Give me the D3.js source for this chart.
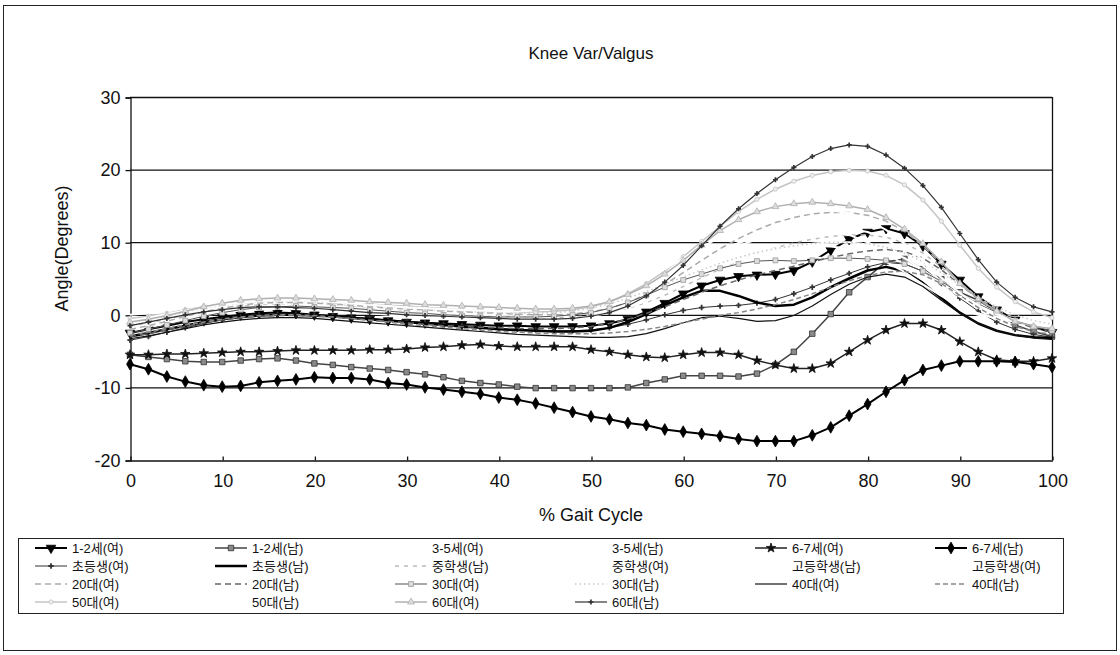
<!DOCTYPE html>
<html>
<head>
<meta charset="utf-8">
<script src="https://cdnjs.cloudflare.com/ajax/libs/d3/7.8.5/d3.min.js"></script>
<style>
  body { margin: 0; background: #fff; }
  svg { font-family: "Liberation Sans", Arial, "Noto Sans CJK KR", sans-serif; }
</style>
</head>
<body>
<svg id="chart" width="1120" height="655"></svg>
<script>
// % gait cycle, one sample every 2%
const gaitPct = [0,2,4,6,8,10,12,14,16,18,20,22,24,26,28,30,32,34,36,38,40,42,44,46,48,
  50,52,54,56,58,60,62,64,66,68,70,72,74,76,78,80,82,84,86,88,90,92,94,96,98,100];

const xTicks = [0,10,20,30,40,50,60,70,80,90,100];
const yTicks = [30,20,10,0,-10,-20];

const age12F = [-2.5,-2,-1.5,-1,-0.6,-0.3,0,0.2,0.3,0.2, 0,-0.2,-0.4,-0.6,-0.8,-1,-1.1,-1.2,-1.3,-1.4,
  -1.5,-1.5,-1.6,-1.6,-1.6,-1.5,-1.2,-0.6,0.4,1.6, 2.9,4,4.8,5.3,5.5,5.6,6.1,7.3,8.9,10.4,
  11.4,11.9,11.2,9.5,7,4.8,2.5,0.7,-0.7,-1.7, -2.4];
const age12M = [-5.5,-5.8,-6.1,-6.4,-6.5,-6.5,-6.3,-6.1,-6,-6.3, -6.7,-6.9,-7.2,-7.4,-7.6,-7.9,-8.2,-8.6,-9.1,-9.4,
  -9.6,-9.9,-10.1,-10.1,-10.1,-10.1,-10.1,-10,-9.4,-8.9, -8.4,-8.4,-8.4,-8.5,-8.1,-6.9,-5.1,-2.6,0.1,3.1,
  5.2,7.3,7.7,6.3,4.9,3.1,2,0.4,-1.4,-2.3, -3];
const age35F = [-1.5,-1.1,-0.7,-0.3,0.1,0.4,0.6,0.7,0.8,0.8, 0.7,0.6,0.5,0.4,0.3,0.2,0.1,0,-0.1,-0.2,
  -0.3,-0.3,-0.3,-0.2,0,0.4,1,1.9,3,4.3, 5.7,7.1,8.4,9.5,10.4,11.1,11.6,11.9,12,11.9,
  11.4,10.4,8.8,6.8,4.6,2.6,1,-0.2,-1,-1.5, -1.8];
const age35M = [-0.5,-0.3,0,0.3,0.5,0.7,0.8,0.9,0.9,0.8, 0.7,0.6,0.5,0.4,0.3,0.2,0.1,0,-0.1,-0.1,
  -0.2,-0.2,-0.1,0,0.2,0.5,1,1.6,2.4,3.3, 4.3,5.2,6,6.7,7.2,7.6,7.8,7.9,7.8,7.5,
  6.9,5.9,4.6,3.2,1.9,0.8,0,-0.5,-0.8,-1, -1.1];
const age67F = [-5.5,-5.5,-5.4,-5.4,-5.3,-5.2,-5.1,-5.1,-5,-4.9, -4.9,-4.9,-4.9,-4.8,-4.8,-4.7,-4.5,-4.4,-4.2,-4.1,
  -4.3,-4.4,-4.4,-4.4,-4.4,-4.8,-5.1,-5.5,-5.8,-5.9, -5.5,-5.2,-5.2,-5.5,-6.3,-6.9,-7.4,-7.4,-6.7,-5.1,
  -3.5,-2.1,-1.2,-1.2,-2.1,-3.7,-5.1,-6.2,-6.4,-6.4, -6];
const age67M = [-6.8,-7.5,-8.5,-9.2,-9.7,-9.9,-9.8,-9.3,-9.1,-8.9, -8.6,-8.7,-8.7,-8.9,-9.4,-9.6,-10,-10.3,-10.6,-10.9,
  -11.4,-11.7,-12.2,-12.8,-13.4,-14,-14.4,-14.9,-15.2,-15.8, -16.1,-16.4,-16.7,-17.1,-17.4,-17.4,-17.4,-16.6,-15.5,-13.9,
  -12.3,-10.6,-9,-7.6,-7,-6.4,-6.4,-6.4,-6.5,-6.8, -7.2];
const elemF = [-3.5,-3,-2.4,-1.8,-1.2,-0.7,-0.3,0,0.1,0.1, 0,-0.1,-0.3,-0.5,-0.7,-0.9,-1.1,-1.3,-1.5,-1.7,
  -1.9,-2,-2.1,-2.2,-2.2,-2.1,-1.8,-1.3,-0.7,0, 0.6,1,1.2,1.3,1.6,2.1,2.9,3.8,4.8,5.7,
  6.6,7.2,7,6,4.3,2.3,0.5,-1,-2,-2.7, -3.1];
const elemM = [-3,-2.5,-2,-1.5,-1,-0.6,-0.3,-0.1,0,0, -0.1,-0.2,-0.4,-0.6,-0.8,-1,-1.2,-1.4,-1.6,-1.8,
  -2,-2.1,-2.2,-2.3,-2.3,-2.2,-1.8,-1,0.1,1.3, 2.4,3.3,3.3,2.6,1.7,1.2,1.4,2.4,3.8,5,
  6.1,6.6,6,4.4,2.3,0.3,-1.2,-2.2,-2.8,-3.1, -3.2];
const middleM = [-1.5,-1.1,-0.6,0,0.5,0.9,1.2,1.4,1.5,1.5, 1.4,1.3,1.1,0.9,0.7,0.5,0.3,0.1,0,-0.1,
  -0.2,-0.3,-0.4,-0.4,-0.3,-0.1,0.3,0.9,1.7,2.7, 3.9,5.1,6.3,7.4,8.4,9.2,9.9,10.4,10.8,11,
  11,10.7,9.9,8.5,6.6,4.4,2.4,0.8,-0.5,-1.4, -1.9];
const middleF = [-2,-1.6,-1.1,-0.6,-0.1,0.3,0.6,0.8,0.9,0.9, 0.8,0.6,0.4,0.2,0,-0.2,-0.4,-0.5,-0.6,-0.7,
  -0.8,-0.8,-0.8,-0.7,-0.5,-0.2,0.3,1,1.9,3, 4.2,5.4,6.5,7.5,8.3,9,9.5,9.8,10,10,
  9.7,9,7.8,6.2,4.3,2.5,1,-0.1,-0.9,-1.4, -1.7];
const highM = [0,0.2,0.5,0.8,1.1,1.3,1.5,1.6,1.6,1.5, 1.4,1.2,1,0.8,0.6,0.4,0.3,0.2,0.1,0,
  0,0,0.1,0.3,0.6,1.1,1.8,2.7,3.8,5.1, 6.4,7.7,8.9,9.9,10.7,11.3,11.6,11.7,11.5,11,
  10,8.6,6.8,4.8,2.9,1.3,0.2,-0.5,-0.9,-1.1, -1.2];
const highF = [-1,-0.7,-0.3,0.1,0.5,0.8,1,1.1,1.1,1, 0.9,0.7,0.5,0.3,0.1,0,-0.2,-0.3,-0.4,-0.5,
  -0.5,-0.5,-0.4,-0.2,0.1,0.5,1.1,1.9,2.8,3.9, 5,6.1,7.1,7.9,8.6,9.1,9.4,9.5,9.4,9.1,
  8.4,7.3,5.9,4.2,2.6,1.2,0.2,-0.5,-0.9,-1.2, -1.3];
const age20F = [-2,-1.5,-0.9,-0.2,0.4,0.9,1.3,1.6,1.7,1.7, 1.6,1.5,1.3,1.1,1,0.8,0.7,0.5,0.4,0.3,
  0.2,0.1,0,0,0.1,0.4,0.9,1.7,2.8,4.2, 5.8,7.5,9.1,10.5,11.7,12.7,13.4,13.9,14.1,14.1,
  13.7,12.9,11.5,9.5,7,4.4,2.1,0.4,-0.8,-1.6, -2];
const age20M = [-3,-2.6,-2.1,-1.6,-1.1,-0.7,-0.4,-0.2,-0.1,-0.1, -0.2,-0.3,-0.5,-0.7,-0.9,-1.1,-1.3,-1.5,-1.6,-1.7,
  -1.8,-1.9,-1.9,-1.9,-1.8,-1.6,-1.2,-0.6,0.2,1.1, 2.1,3.1,4,4.8,5.5,6.1,6.7,7.3,7.9,8.4,
  8.8,9,8.7,7.8,6.2,4.2,2.2,0.5,-0.9,-1.8, -2.4];
const age30F = [-2.5,-2,-1.4,-0.8,-0.2,0.3,0.7,1,1.1,1.2, 1.1,1,0.9,0.7,0.5,0.3,0.2,0,-0.1,-0.2,
  -0.3,-0.3,-0.3,-0.2,0,0.3,0.9,1.7,2.7,3.8, 4.8,5.6,6.4,7,7.4,7.5,7.4,7.5,7.8,7.8,
  7.7,7.5,7,6,4.6,3,1.5,0.3,-0.8,-1.6, -2.2];
const age30M = [-1,-0.6,-0.1,0.4,0.9,1.3,1.6,1.8,1.9,1.9, 1.8,1.6,1.5,1.3,1.1,0.9,0.8,0.6,0.5,0.4,
  0.3,0.2,0.2,0.3,0.5,0.9,1.5,2.3,3.2,4.2, 5.2,6.2,7.1,7.9,8.6,9.1,9.5,9.8,10,10,
  9.8,9.3,8.5,7.3,5.8,4.1,2.5,1.1,0,-0.8, -1.3];
const age40F = [-3.3,-2.9,-2.4,-1.9,-1.4,-1,-0.7,-0.5,-0.4,-0.4, -0.5,-0.7,-0.9,-1.1,-1.3,-1.5,-1.7,-1.9,-2.1,-2.3,
  -2.5,-2.7,-2.8,-2.9,-3,-3.1,-3.1,-3,-2.6,-1.9, -1.1,-0.4,-0.2,-0.5,-0.9,-0.8,-0.1,1.2,2.8,4.2,
  5.2,5.6,5.2,3.9,2,0.2,-1.2,-2.2,-2.8,-3.2, -3.4];
const age40M = [-2.8,-2.4,-1.9,-1.4,-1,-0.6,-0.3,-0.1,0,0, -0.1,-0.3,-0.5,-0.8,-1,-1.3,-1.5,-1.7,-1.9,-2.1,
  -2.3,-2.4,-2.5,-2.6,-2.6,-2.6,-2.5,-2.3,-2,-1.6, -1.1,-0.6,-0.1,0.3,0.8,1.4,2.1,2.9,3.8,4.7,
  5.4,5.9,6,5.5,4.3,2.7,1,-0.5,-1.6,-2.3, -2.7];
const age50F = [-0.5,-0.2,0.2,0.7,1.1,1.5,1.8,1.9,2,2, 1.9,1.8,1.6,1.5,1.3,1.2,1,0.9,0.7,0.6,
  0.5,0.4,0.4,0.5,0.7,1.1,1.8,2.9,4.3,6, 8,10.1,12.2,14.2,15.9,17.3,18.4,19.2,19.7,19.9,
  19.8,19.2,17.9,15.8,12.9,9.6,6.4,3.8,1.8,0.4, -0.4];
const age50M = [-0.8,-0.4,0.1,0.6,1,1.4,1.7,1.9,2,2, 1.9,1.8,1.6,1.4,1.2,1,0.9,0.8,0.7,0.6,
  0.5,0.5,0.6,0.8,1.2,1.8,2.6,3.6,4.9,6.3, 7.8,9.3,10.7,12,13,13.8,14.3,14.5,14.4,14,
  13.1,11.7,9.8,7.5,5.1,3,1.3,0.1,-0.7,-1.2, -1.5];
const age60F = [-1,-0.6,-0.1,0.5,1.1,1.6,2,2.2,2.3,2.3, 2.2,2.1,2,1.8,1.7,1.6,1.4,1.3,1.2,1.1,
  1,0.9,0.8,0.8,0.9,1.2,1.8,2.8,4,5.6, 7.5,9.6,11.6,13.1,14.2,14.9,15.3,15.5,15.3,15,
  14.5,13.4,11.8,9.8,7.3,4.3,2.2,0.5,-0.9,-1.6, -1.9];
const age60M = [-1.5,-1,-0.5,0,0.4,0.7,1,1.1,1.1,1, 0.9,0.7,0.5,0.3,0.2,0,-0.1,-0.2,-0.3,-0.4,
  -0.5,-0.6,-0.6,-0.6,-0.5,-0.2,0.3,1.2,2.6,4.5, 6.8,9.5,12.2,14.6,16.7,18.6,20.3,21.8,22.9,23.4,
  23.2,22,20.2,17.8,14.8,11.2,7.6,4.5,2.4,1.1, 0.4];

const seriesNames = ['1-2세(여)','1-2세(남)','3-5세(여)','3-5세(남)','6-7세(여)','6-7세(남)',
  '초등생(여)','초등생(남)','중학생(남)','중학생(여)','고등학생(남)','고등학생(여)',
  '20대(여)','20대(남)','30대(여)','30대(남)','40대(여)','40대(남)',
  '50대(여)','50대(남)','60대(여)','60대(남)'];
const seriesValues = [age12F, age12M, age35F, age35M, age67F, age67M,
  elemF, elemM, middleM, middleF, highM, highF,
  age20F, age20M, age30F, age30M, age40F, age40M,
  age50F, age50M, age60F, age60M];

// line / marker look of each series, in legend order
const looks = [
  {stroke: '#000', w: 2,   mk: {type: d3.symbolTriangle, size: 40, rot: 180, fill: '#000', stroke: '#000'}},
  {stroke: '#444', w: 1.5, mk: {type: d3.symbolSquare, size: 30, fill: '#8a8a8a', stroke: '#333'}},
  {stroke: '#fff', w: 2},
  {stroke: '#fff', w: 2},
  {stroke: '#222', w: 1.5, mk: {type: d3.symbolStar, size: 28, fill: '#111', stroke: '#111'}},
  {stroke: '#000', w: 2,   mk: {type: d3.symbolDiamond, size: 40, fill: '#000', stroke: '#000'}},
  {stroke: '#333', w: 1,   mk: {type: d3.symbolCross, size: 16, fill: '#333', stroke: 'none'}},
  {stroke: '#000', w: 2.5},
  {stroke: '#bbb', w: 1.5, dash: '4,5'},
  {stroke: '#fff', w: 2},
  {stroke: '#fff', w: 2},
  {stroke: '#fff', w: 2},
  {stroke: '#aaa', w: 1.5, dash: '6,4'},
  {stroke: '#666', w: 1.5, dash: '6,4'},
  {stroke: '#555', w: 1,   mk: {type: d3.symbolSquare, size: 24, fill: '#ddd', stroke: '#999'}},
  {stroke: '#c8c8c8', w: 1.5, dash: '1.5,3'},
  {stroke: '#111', w: 1.2},
  {stroke: '#888', w: 1.5, dash: '5,3'},
  {stroke: '#c4c4c4', w: 1.5, mk: {type: d3.symbolCircle, size: 14, fill: '#eee', stroke: '#c4c4c4'}},
  {stroke: '#fff', w: 2},
  {stroke: '#b0b0b0', w: 1.5, mk: {type: d3.symbolTriangle, size: 20, fill: '#ddd', stroke: '#b0b0b0'}},
  {stroke: '#333', w: 1.2, mk: {type: d3.symbolCross, size: 14, fill: '#333', stroke: 'none'}}
];

const width = 1120, height = 655;
const plot = {l: 130, r: 1052, t: 97, b: 460};
const font = '"Liberation Sans", Arial, "Noto Sans CJK KR", sans-serif';

const svg = d3.select('#chart');

svg.append('rect')
  .attr('x', 3.5).attr('y', 5.5)
  .attr('width', width - 7).attr('height', height - 10)
  .attr('fill', 'none').attr('stroke', '#222');

const x = d3.scaleLinear().domain([0, 100]).range([plot.l, plot.r]);
const y = d3.scaleLinear().domain([-20, 30]).range([plot.b, plot.t]);

// gridlines
svg.append('g')
  .selectAll('line')
  .data(yTicks.filter(v => v > -20))
  .join('line')
  .attr('x1', plot.l).attr('x2', plot.r)
  .attr('y1', d => y(d) + 0.5).attr('y2', d => y(d) + 0.5)
  .attr('stroke', '#111').attr('stroke-width', 1.3);

svg.append('line')
  .attr('x1', plot.r + 0.5).attr('x2', plot.r + 0.5)
  .attr('y1', plot.t).attr('y2', plot.b)
  .attr('stroke', '#111').attr('stroke-width', 1.3);

const plain = d => String(d);   // keep an ASCII hyphen for negatives

const axisY = d3.axisLeft(y).tickValues(yTicks).tickFormat(plain).tickSize(5).tickPadding(5);
const gy = svg.append('g')
  .attr('transform', `translate(${plot.l + 0.5}, 0.5)`)
  .call(axisY);

const axisX = d3.axisBottom(x).tickValues(xTicks).tickFormat(plain)
  .tickSizeInner(-4).tickSizeOuter(0).tickPadding(14);
const gx = svg.append('g')
  .attr('transform', `translate(0.5, ${plot.b + 0.5})`)
  .call(axisX);

[gy, gx].forEach(g => {
  g.selectAll('path, line').attr('stroke', '#111').attr('stroke-width', 1.3);
  g.selectAll('text')
    .attr('fill', '#111')
    .style('font-family', font)
    .style('font-size', '18px');
});

// series
const line = d3.line().x((d, i) => x(gaitPct[i])).y(d => y(d));

seriesValues.forEach((vals, k) => {
  const lk = looks[k];
  svg.append('path')
    .datum(vals)
    .attr('fill', 'none')
    .attr('stroke', lk.stroke)
    .attr('stroke-width', lk.w)
    .attr('stroke-dasharray', lk.dash || null)
    .attr('stroke-linejoin', 'round')
    .attr('d', line);
  if (lk.mk) {
    const sym = d3.symbol().type(lk.mk.type).size(lk.mk.size);
    svg.append('g')
      .selectAll('path')
      .data(vals)
      .join('path')
      .attr('d', sym)
      .attr('transform', (d, i) => `translate(${x(gaitPct[i])}, ${y(d)}) rotate(${lk.mk.rot || 0})`)
      .attr('fill', lk.mk.fill)
      .attr('stroke', lk.mk.stroke)
      .attr('stroke-width', 0.8);
  }
});

// titles
svg.append('text')
  .attr('x', (plot.l + plot.r) / 2).attr('y', 59)
  .attr('text-anchor', 'middle')
  .style('font-size', '17px').attr('fill', '#111')
  .text('Knee Var/Valgus');

svg.append('text')
  .attr('x', (plot.l + plot.r) / 2).attr('y', 521)
  .attr('text-anchor', 'middle')
  .style('font-size', '18px').attr('fill', '#111')
  .text('% Gait Cycle');

svg.append('text')
  .attr('transform', `translate(68, ${(y(30) + y(-20)) / 2 - 30}) rotate(-90)`)
  .attr('text-anchor', 'middle')
  .style('font-size', '18px').attr('fill', '#111')
  .text('Angle(Degrees)');

// legend
const leg = {x: 18, y: 538, w: 1045, h: 75, col: 180, row: 18, tx: 72, ty: 548};
svg.append('rect')
  .attr('x', leg.x + 0.5).attr('y', leg.y + 0.5)
  .attr('width', leg.w).attr('height', leg.h)
  .attr('fill', '#fff').attr('stroke', '#222');

seriesNames.forEach((name, k) => {
  const lk = looks[k];
  const tx = leg.tx + leg.col * (k % 6);
  const ty = leg.ty + leg.row * Math.floor(k / 6);
  const g = svg.append('g');
  g.append('line')
    .attr('x1', tx - 37).attr('x2', tx - 5)
    .attr('y1', ty).attr('y2', ty)
    .attr('stroke', lk.stroke)
    .attr('stroke-width', lk.w)
    .attr('stroke-dasharray', lk.dash || null);
  if (lk.mk) {
    g.append('path')
      .attr('d', d3.symbol().type(lk.mk.type).size(lk.mk.size)())
      .attr('transform', `translate(${tx - 21}, ${ty}) rotate(${lk.mk.rot || 0})`)
      .attr('fill', lk.mk.fill)
      .attr('stroke', lk.mk.stroke)
      .attr('stroke-width', 0.8);
  }
  g.append('text')
    .attr('x', tx).attr('y', ty)
    .attr('dy', '0.35em')
    .style('font-size', '13px')
    .attr('fill', '#111')
    .text(name);
});
</script>
</body>
</html>
